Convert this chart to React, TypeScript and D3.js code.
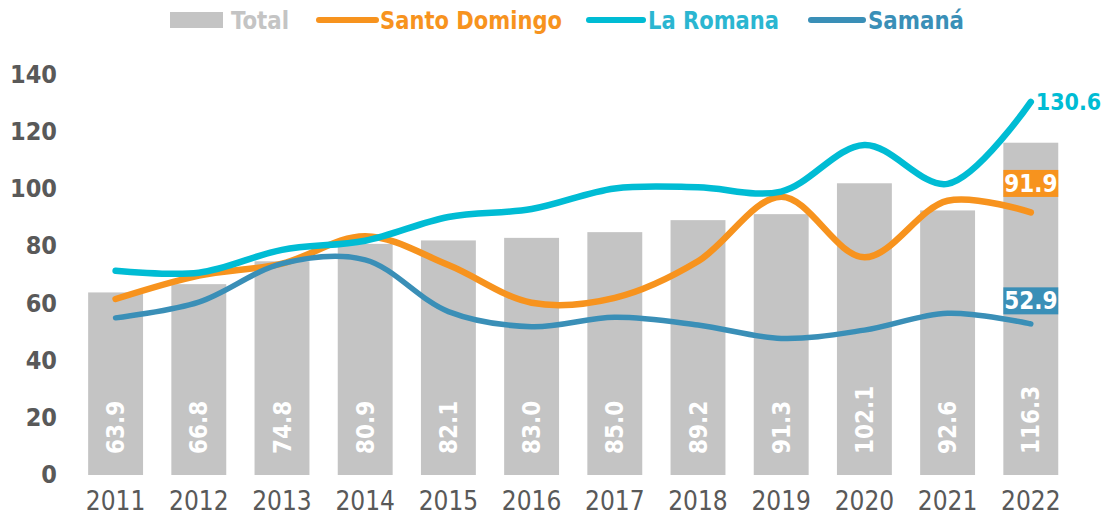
import * as d3 from "d3";

const years = ["2011", "2012", "2013", "2014", "2015", "2016", "2017", "2018", "2019", "2020", "2021", "2022"];
const total = [63.9, 66.8, 74.8, 80.9, 82.1, 83.0, 85.0, 89.2, 91.3, 102.1, 92.6, 116.3];
const santoDomingo = [61.6, 69.8, 74.0, 83.6, 73.5, 60.3, 62.0, 74.8, 97.4, 76.2, 96.0, 91.9];
const laRomana = [71.5, 70.8, 78.8, 82.0, 90.3, 93.1, 100.3, 100.7, 99.2, 115.5, 101.9, 130.6];
const samana = [55.0, 60.5, 74.0, 75.3, 57.2, 51.9, 55.2, 52.5, 47.8, 50.7, 56.6, 52.9];
const yTicks = [0, 20, 40, 60, 80, 100, 120, 140];

const W = 1104;
const H = 518;
const GRAY = "#c4c4c4";
const ORANGE = "#f7931e";
const CYAN = "#00bcd4";
const BLUE = "#3a8fb7";
const AXIS = "#595959";
const COND = "'DejaVu Sans Condensed', 'DejaVu Sans', sans-serif";

export default function App() {
  const x = d3.scaleBand<string>().domain(years).range([74, 1072.4]).paddingInner(0.34).paddingOuter(0.17);
  const y = d3.scaleLinear().domain([0, 140]).range([475, 75]);
  const cx = (i: number) => (x(years[i]) ?? 0) + x.bandwidth() / 2;

  const line = d3
    .line<number>()
    .x((_, i) => cx(i))
    .y((d) => y(d))
    .curve(d3.curveCatmullRom.alpha(0.5));

  const series = [
    { name: "Santo Domingo", values: santoDomingo, color: ORANGE, width: 6.5 },
    { name: "La Romana", values: laRomana, color: CYAN, width: 6.5 },
    { name: "Samaná", values: samana, color: BLUE, width: 5.5 },
  ];

  const last = years.length - 1;

  // boxed end labels, lifted above their points
  const boxed = [
    { v: santoDomingo[last], color: ORANGE, lift: 29 },
    { v: samana[last], color: BLUE, lift: 23 },
  ];

  return (
    <svg width={W} height={H} style={{ position: "absolute", left: 0, top: 0, background: "#fff" }}>
      {/* legend */}
      <g fontFamily={COND} fontWeight="bold" fontSize={24}>
        <rect x={170} y={12} width={53} height={16} fill={GRAY} />
        <text x={231} y={29} fill={GRAY} textLength={58} lengthAdjust="spacingAndGlyphs">Total</text>
        <line x1={319} x2={376} y1={20} y2={20} stroke={ORANGE} strokeWidth={6} strokeLinecap="round" />
        <text x={380} y={29} fill={ORANGE} textLength={182} lengthAdjust="spacingAndGlyphs">Santo Domingo</text>
        <line x1={589} x2={643} y1={20} y2={20} stroke={CYAN} strokeWidth={6} strokeLinecap="round" />
        <text x={648} y={29} fill="#2bb6d1" textLength={131} lengthAdjust="spacingAndGlyphs">La Romana</text>
        <line x1={811} x2={863} y1={20} y2={20} stroke={BLUE} strokeWidth={6} strokeLinecap="round" />
        <text x={868} y={29} fill={BLUE} textLength={96} lengthAdjust="spacingAndGlyphs">Samaná</text>
      </g>

      {/* y axis labels */}
      <g fontFamily={COND} fontWeight="bold" fontSize={25} fill={AXIS} textAnchor="end">
        {yTicks.map((t) => (
          <text key={t} x={57} y={y(t) - 1} dy="0.36em">{t}</text>
        ))}
      </g>

      {/* x axis labels */}
      <g fontFamily={COND} fontSize={26} fill={AXIS} textAnchor="middle">
        {years.map((yr, i) => (
          <text key={yr} x={cx(i)} y={510}>{yr}</text>
        ))}
      </g>

      {/* bars */}
      {total.map((v, i) => (
        <rect key={years[i]} x={x(years[i])} y={y(v)} width={x.bandwidth()} height={y(0) - y(v)} fill={GRAY} />
      ))}

      {/* bar labels */}
      <g fontFamily={COND} fontWeight="bold" fontSize={24} fill="#fff">
        {total.map((v, i) => (
          <text key={years[i]} transform={`translate(${cx(i)},${y(0) - 21}) rotate(-90)`} dy="0.36em">
            {v.toFixed(1)}
          </text>
        ))}
      </g>

      {/* lines */}
      {series.map((s) => (
        <path
          key={s.name}
          d={line(s.values) ?? ""}
          fill="none"
          stroke={s.color}
          strokeWidth={s.width}
          strokeLinecap="round"
          strokeLinejoin="round"
        />
      ))}

      {/* end labels */}
      <text
        x={cx(last) + 5}
        y={y(laRomana[last])}
        dy="0.36em"
        fontFamily={COND}
        fontWeight="bold"
        fontSize={23}
        fill={CYAN}
      >
        {laRomana[last].toFixed(1)}
      </text>
      {boxed.map((l) => (
        <g key={l.color}>
          <rect x={x(years[last])} y={y(l.v) - l.lift - 13.5} width={x.bandwidth()} height={27} fill={l.color} />
          <text
            x={cx(last)}
            y={y(l.v) - l.lift}
            dy="0.36em"
            textAnchor="middle"
            fontFamily={COND}
            fontWeight="bold"
            fontSize={24}
            fill="#fff"
          >
            {l.v.toFixed(1)}
          </text>
        </g>
      ))}
    </svg>
  );
}
